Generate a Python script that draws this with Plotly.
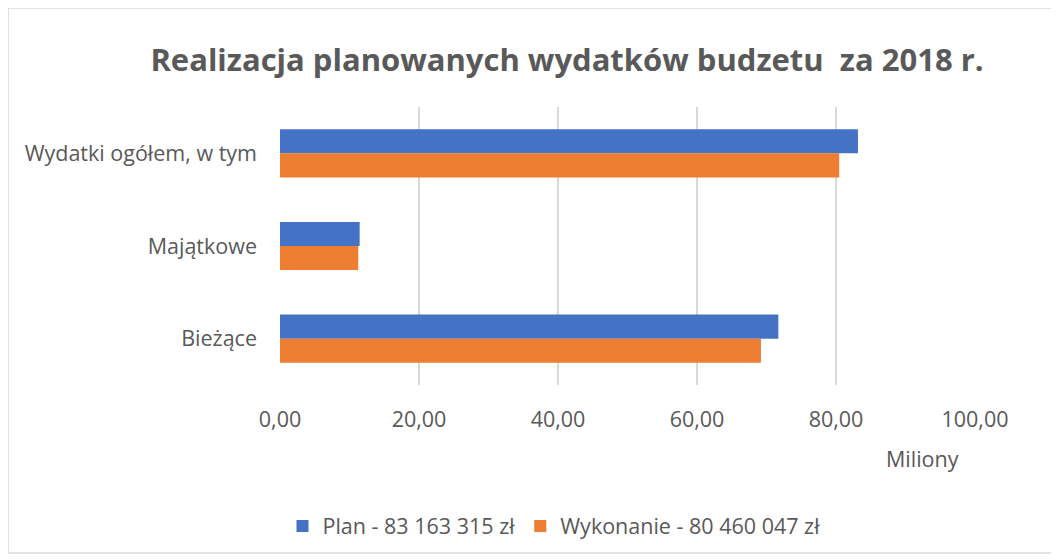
import plotly.graph_objects as go

categories = ["Wydatki ogółem, w tym", "Majątkowe", "Bieżące"]
plan_values = [83.16, 11.46, 71.70]
wykonanie_values = [80.46, 11.26, 69.20]
series_names = ["Plan - 83 163 315 zł", "Wykonanie - 80 460 047 zł"]
tick_values = [0, 20, 40, 60, 80, 100]
tick_labels = ["0,00", "20,00", "40,00", "60,00", "80,00", "100,00"]

FONT = "Open Sans, sans-serif"
GRAY = "#595959"
FS = 21.5

fig = go.Figure()
fig.add_trace(go.Bar(y=categories, x=plan_values, orientation="h", name=series_names[0],
                     marker=dict(color="#4472C4", line=dict(width=0))))
fig.add_trace(go.Bar(y=categories, x=wykonanie_values, orientation="h", name=series_names[1],
                     marker=dict(color="#ED7D31", line=dict(width=0))))

OFF = 8  # page body margin
W, H = 1059 - OFF, 560 - OFF
# plot area in reference page pixels
PL, PR, PT, PB = 280, 975, 107, 385
L, R, T, B = PL - OFF, W - (PR - OFF), PT - OFF, H - (PB - OFF)
pw, ph = PR - PL, PB - PT

def px_x(p):
    return (p - PL) / pw

def px_y(p):
    return (PB - p) / ph

fig.update_layout(
    width=W, height=H,
    margin=dict(l=L, r=R, t=T, b=B, pad=0),
    paper_bgcolor="white", plot_bgcolor="white",
    font=dict(family=FONT, color=GRAY, size=FS),
    barmode="group", bargap=0.48, bargroupgap=0,
    title=dict(text="<b>Realizacja planowanych wydatków budzetu  za 2018 r.</b>",
               font=dict(size=31, color=GRAY, family=FONT),
               x=px_x(567), xref="paper", xanchor="center",
               y=1 - (60 - OFF) / H, yref="container", yanchor="middle"),
    xaxis=dict(range=[0, 100], tickvals=tick_values, ticktext=tick_labels,
               showgrid=True, gridcolor="#d9d9d9", gridwidth=1.5,
               zeroline=False, showline=False, ticks="",
               ticklabelstandoff=19, tickfont=dict(size=FS, color=GRAY)),
    yaxis=dict(autorange="reversed", showgrid=False, zeroline=False, showline=False,
               ticks="", ticklabelstandoff=22, tickfont=dict(size=FS, color=GRAY)),
    legend=dict(orientation="h", x=px_x(554), xanchor="center",
                y=px_y(526), yanchor="middle", font=dict(size=FS, color=GRAY),
                itemwidth=30, traceorder="normal"),
    annotations=[dict(text="Miliony", xref="paper", yref="paper",
                      x=px_x(922), y=px_y(458), xanchor="center", yanchor="middle",
                      showarrow=False, font=dict(size=FS, color=GRAY))],
    shapes=[dict(type="rect", xref="paper", yref="paper",
                 x0=px_x(8), x1=px_x(1070), y0=px_y(8), y1=px_y(553),
                 line=dict(color="#d9d9d9", width=1.5), fillcolor="rgba(0,0,0,0)",
                 layer="below")],
)

fig.write_html("out.html")
